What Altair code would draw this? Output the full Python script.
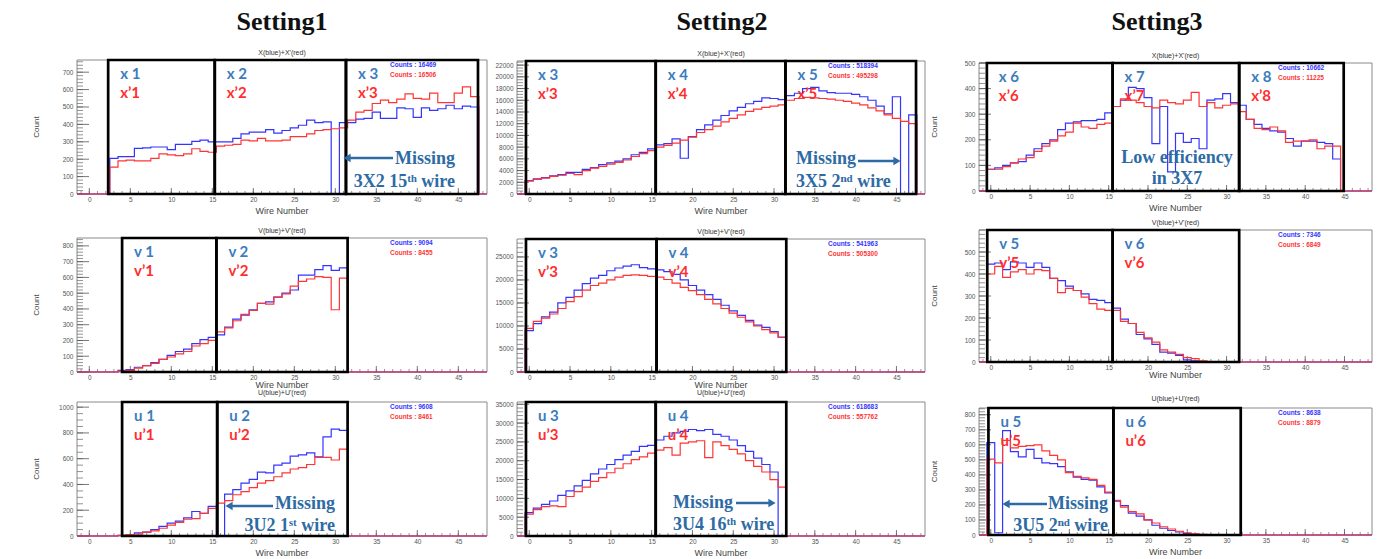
import altair as alt
import pandas as pd

# ---------------- data ----------------
LO, HI = -1.5, 48.5
X_TICKS = [0, 5, 10, 15, 20, 25, 30, 35, 40, 45]

# Setting1 X plane (wires 3..47)
S1_X_START = 3
S1_X_BLUE = [205, 215, 215, 262, 265, 270, 270, 255, 285, 285, 302, 310, 300,
             300, 300, 320, 345, 355, 355, 370, 350, 365, 380, 395, 425, 410, 415, 0, 410,
             410, 430, 435, 470, 435, 435, 495, 490, 440, 495, 480, 490, 510, 490, 505, 500]
S1_X_RED = [155, 190, 195, 190, 190, 205, 230, 225, 220, 230, 260, 245, 240,
            275, 280, 285, 310, 305, 320, 305, 305, 310, 330, 330, 345, 365, 370, 375, 380,
            425, 470, 480, 520, 540, 525, 545, 575, 550, 545, 580, 525, 525, 580, 615, 560]
S1_X_BOXES = [2.3, 15.3, 31.3, 47.4]
S1_X_LAB_B = ["x 1", "x 2", "x 3"]
S1_X_LAB_R = ["x’1", "x’2", "x’3"]
S1_X_COUNTS = ["Counts : 16469", "Counts : 16506"]

# Setting2 X plane (wires 0..47)
S2_X_START = 0
S2_X_BLUE = [2300, 2600, 2800, 3100, 3300, 3700, 3700, 4200, 4500, 5000, 5300, 5600, 6000, 6700, 7100, 7700,
             8400, 8600, 9400, 6100, 9800, 11000, 11800, 12600, 13400, 14200, 14800, 15400, 15800, 16400, 16300, 16100,
             16800, 17200, 18000, 18200, 17600, 17300, 17200, 17200, 17000, 16600, 16000, 15000, 13700, 16600, 0, 13500]
S2_X_RED = [2200, 2500, 2700, 3000, 3200, 3500, 3300, 4000, 4400, 4700, 5100, 5400, 5800, 6400, 6900, 7400,
            8000, 8300, 8700, 9200, 9700, 10500, 11000, 11600, 12300, 12900, 13500, 14100, 14500, 14800, 15000, 15200,
            16000, 16300, 16500, 16400, 16300, 16200, 16000, 15800, 15500, 15200, 14700, 14200, 13500, 12900, 12400, 12000]
S2_X_BOXES = [-0.4, 15.5, 31.4, 47.4]
S2_X_LAB_B = ["x 3", "x 4", "x 5"]
S2_X_LAB_R = ["x’3", "x’4", "x’5"]
S2_X_COUNTS = ["Counts : 518394", "Counts : 495298"]

# Setting3 X plane (wires 0..44)
S3_X_START = 0
S3_X_BLUE = [85, 90, 100, 110, 115, 140, 165, 185, 200, 240, 265, 270, 275, 275, 280, 305,
             330, 355, 405, 400, 365, 185, 330, 75, 225, 190, 205, 165, 355, 360, 380, 345,
             335, 280, 260, 245, 235, 230, 205, 175, 195, 195, 190, 185, 125]
S3_X_RED = [85, 85, 95, 110, 125, 130, 155, 175, 195, 215, 230, 265, 250, 245, 260, 265,
            330, 360, 355, 345, 330, 325, 355, 345, 340, 355, 385, 330, 345, 325, 335, 340,
            310, 280, 245, 240, 250, 235, 190, 195, 195, 200, 165, 175, 175]
S3_X_BOXES = [-0.5, 15.5, 31.6, 44.9]
S3_X_LAB_B = ["x 6", "x 7", "x 8"]
S3_X_LAB_R = ["x’6", "x’7", "x’8"]
S3_X_COUNTS = ["Counts : 10662", "Counts : 11225"]

# Setting1 V plane (wires 4..31)
S1_V_START = 4
S1_V_BLUE = [10, 15, 30, 40, 60, 80, 105, 130, 145, 180, 205, 220,
             235, 285, 335, 360, 395, 435, 445, 475, 500, 520, 615, 615, 650, 675, 645, 660]
S1_V_RED = [5, 10, 25, 40, 55, 80, 95, 115, 130, 165, 180, 200,
            255, 280, 325, 365, 390, 435, 430, 475, 495, 545, 575, 590, 605, 600, 395, 595]
S1_V_BOXES = [4.0, 15.5, 31.5]
S1_V_LAB_B = ["v 1", "v 2"]
S1_V_LAB_R = ["v’1", "v’2"]
S1_V_COUNTS = ["Counts : 9094", "Counts : 8455"]

# Setting2 V plane (wires 0..31)
S2_V_START = 0
S2_V_BLUE = [9000, 10500, 12000, 13000, 15000, 16200, 17800, 19200, 20400, 21000, 22000, 22600, 23000, 23300, 22700, 22400,
             22200, 21800, 21200, 20000, 18800, 17800, 16800, 15800, 14500, 13300, 12300, 11200, 10200, 9700, 8800, 7600]
S2_V_RED = [9500, 11000, 11700, 12600, 13800, 15300, 16400, 17800, 18800, 19300, 20000, 20600, 21000, 21100, 21000, 20800,
            20600, 20100, 19300, 18400, 17700, 16800, 15800, 14800, 13800, 12800, 11900, 10900, 10000, 9200, 8500, 7500]
S2_V_BOXES = [-0.4, 15.6, 31.5]
S2_V_LAB_B = ["v 3", "v 4"]
S2_V_LAB_R = ["v’3", "v’4"]
S2_V_COUNTS = ["Counts : 541963", "Counts : 505300"]

# Setting3 V plane (wires 0..27)
S3_V_START = 0
S3_V_BLUE = [445, 450, 420, 455, 450, 430, 450, 430, 380, 370, 345, 325, 310, 285, 280, 270,
             245, 195, 175, 125, 105, 80, 45, 40, 30, 10, 5, 2]
S3_V_RED = [400, 435, 385, 410, 420, 400, 420, 415, 380, 315, 335, 325, 295, 265, 240, 235,
            235, 185, 175, 135, 110, 90, 55, 45, 35, 20, 15, 5]
S3_V_BOXES = [-0.45, 15.5, 31.6]
S3_V_LAB_B = ["v 5", "v 6"]
S3_V_LAB_R = ["v’5", "v’6"]
S3_V_COUNTS = ["Counts : 7346", "Counts : 6849"]

# Setting1 U plane (wires 4..31)
S1_U_START = 4
S1_U_BLUE = [5, 10, 25, 30, 50, 75, 100, 115, 140, 190, 175, 230,
             0, 325, 360, 410, 440, 495, 490, 550, 565, 620, 630, 645, 615, 770, 830, 820]
S1_U_RED = [5, 10, 15, 30, 40, 60, 85, 105, 130, 135, 175, 215,
            255, 275, 320, 345, 375, 410, 430, 460, 490, 520, 530, 555, 610, 610, 590, 675]
S1_U_BOXES = [4.0, 15.6, 31.5]
S1_U_LAB_B = ["u 1", "u 2"]
S1_U_LAB_R = ["u’1", "u’2"]
S1_U_COUNTS = ["Counts : 9608", "Counts : 8461"]

# Setting2 U plane (wires 0..31)
S2_U_START = 0
S2_U_BLUE = [6200, 7400, 8400, 9300, 10800, 12000, 13300, 14800, 16500, 17800, 19000, 20300, 21500, 22500, 23800, 24100,
             25500, 26500, 27400, 27800, 28300, 28000, 28300, 27000, 26500, 25500, 24000, 22500, 20700, 19000, 17000, 0]
S2_U_RED = [5800, 7000, 7800, 8000, 7800, 10500, 11800, 13000, 14500, 15500, 16800, 18000, 19200, 20300, 21000, 22000,
            22800, 23500, 21500, 24700, 25000, 25300, 20800, 25000, 24000, 23000, 21800, 20000, 18500, 17000, 15000, 13000]
S2_U_BOXES = [-0.4, 15.5, 31.5]
S2_U_LAB_B = ["u 3", "u 4"]
S2_U_LAB_R = ["u’3", "u’4"]
S2_U_COUNTS = ["Counts : 618683", "Counts : 557762"]

# Setting3 U plane (wires 0..27)
S3_U_START = 0
S3_U_BLUE = [615, 15, 695, 555, 520, 570, 510, 480, 475, 455, 420, 385, 370, 365, 320, 280,
             225, 195, 145, 125, 100, 65, 45, 30, 20, 10, 5, 2]
S3_U_RED = [505, 480, 630, 580, 590, 595, 600, 560, 530, 500, 415, 390, 380, 370, 330, 285,
            230, 185, 155, 140, 100, 80, 55, 40, 25, 15, 8, 5]
S3_U_BOXES = [-0.3, 15.6, 31.8]
S3_U_LAB_B = ["u 5", "u 6"]
S3_U_LAB_R = ["u’5", "u’6"]
S3_U_COUNTS = ["Counts : 8638", "Counts : 8879"]

SETTINGS = ["Setting1", "Setting2", "Setting3"]
TITLES = ["X(blue)+X'(red)", "V(blue)+V'(red)", "U(blue)+U'(red)"]

# ---------------- styles ----------------
BLUE = "#3434ff"
RED = "#ff3535"
LAB_BLUE = "#3b7cbe"
LAB_RED = "#ff2e2e"
ANNOT = "#2e6ba5"
AXFONT = "Liberation Sans"

# column geometry: (view width, plot width, y-title x offset or None)
COLS = [(410, 410, -40), (432, 408, None), (393, 393, -44)]
# per column, per row: (view height = plot bottom, plot top)
ROWS = [[(134, 0), (148, 14), (134, 0)],
        [(134, 1), (148, 15), (134, 0)],
        [(131, 3), (138, 6), (133, 6)]]
COUNTS_X = [313, 311, 299]
SETTING_X = [205, 205, 178]
WIRE_DY = [17, 13, 17]
TITLE_DY = [7, 7, 9]

PANELS = [
    # row 0
    dict(c=0, r=0, start=S1_X_START, blue=S1_X_BLUE, red=S1_X_RED, boxes=S1_X_BOXES, lb=S1_X_LAB_B, lr=S1_X_LAB_R,
         counts=S1_X_COUNTS, ymax=770, ystep=100, ytop=700, minor=20,
         annot=[("Missing", 378, 99, "right"), ("3X2 15\u1d57\u02b0 wire", 378, 122, "right")],
         arrow=(316, 266, 98, "left")),
    dict(c=1, r=0, start=S2_X_START, blue=S2_X_BLUE, red=S2_X_RED, boxes=S2_X_BOXES, lb=S2_X_LAB_B, lr=S2_X_LAB_R,
         counts=S2_X_COUNTS, ymax=22700, ystep=2000, ytop=22000, minor=500,
         annot=[("Missing", 279, 99, "left"), ("3X5 2\u207f\u1d48 wire", 279, 122, "left")],
         arrow=(341, 384, 101, "right")),
    dict(c=2, r=0, start=S3_X_START, blue=S3_X_BLUE, red=S3_X_RED, boxes=S3_X_BOXES, lb=S3_X_LAB_B, lr=S3_X_LAB_R,
         counts=S3_X_COUNTS, ymax=500, ystep=100, ytop=500, minor=20,
         annot=[("Low efficiency", 198, 98, "center"), ("in 3X7", 198, 119, "center")],
         arrow=None),
    # row 1
    dict(c=0, r=1, start=S1_V_START, blue=S1_V_BLUE, red=S1_V_RED, boxes=S1_V_BOXES, lb=S1_V_LAB_B, lr=S1_V_LAB_R,
         counts=S1_V_COUNTS, ymax=850, ystep=100, ytop=800, minor=20, annot=[], arrow=None),
    dict(c=1, r=1, start=S2_V_START, blue=S2_V_BLUE, red=S2_V_RED, boxes=S2_V_BOXES, lb=S2_V_LAB_B, lr=S2_V_LAB_R,
         counts=S2_V_COUNTS, ymax=28900, ystep=5000, ytop=25000, minor=1000, annot=[], arrow=None),
    dict(c=2, r=1, start=S3_V_START, blue=S3_V_BLUE, red=S3_V_RED, boxes=S3_V_BOXES, lb=S3_V_LAB_B, lr=S3_V_LAB_R,
         counts=S3_V_COUNTS, ymax=600, ystep=100, ytop=500, minor=20, annot=[], arrow=None),
    # row 2
    dict(c=0, r=2, start=S1_U_START, blue=S1_U_BLUE, red=S1_U_RED, boxes=S1_U_BOXES, lb=S1_U_LAB_B, lr=S1_U_LAB_R,
         counts=S1_U_COUNTS, ymax=1040, ystep=200, ytop=1000, minor=50,
         annot=[("Missing", 258, 102, "right"), ("3U2 1\u02e2\u1d57 wire", 258, 124, "right")],
         arrow=(196, 148, 104, "left")),
    dict(c=1, r=2, start=S2_U_START, blue=S2_U_BLUE, red=S2_U_RED, boxes=S2_U_BOXES, lb=S2_U_LAB_B, lr=S2_U_LAB_R,
         counts=S2_U_COUNTS, ymax=35600, ystep=5000, ytop=35000, minor=1000,
         annot=[("Missing", 156, 101, "left"), ("3U4 16\u1d57\u02b0 wire", 156, 123, "left")],
         arrow=(219, 259, 101, "right")),
    dict(c=2, r=2, start=S3_U_START, blue=S3_U_BLUE, red=S3_U_RED, boxes=S3_U_BOXES, lb=S3_U_LAB_B, lr=S3_U_LAB_R,
         counts=S3_U_COUNTS, ymax=845, ystep=100, ytop=800, minor=20,
         annot=[("Missing", 129, 102, "right"), ("3U5 2\u207f\u1d48 wire", 129, 124, "right")],
         arrow=(68, 23, 102, "left")),
]


def hist_df(start, vals):
    d = {start + i: v for i, v in enumerate(vals)}
    bins = list(range(-1, 49))
    xs = [b - 0.5 for b in bins] + [HI]
    ys = [d.get(b, 0) for b in bins] + [0]
    return pd.DataFrame({"x": xs, "y": ys})


def one(text):
    return pd.DataFrame({"t": [text]})


def build(p):
    vw, pw, ytitle_x = COLS[p["c"]]
    h, top = ROWS[p["c"]][p["r"]]
    xs = alt.Scale(domain=[LO, HI], range=[0, pw], nice=False, zero=False)
    ys = alt.Scale(domain=[0, p["ymax"]], range=[h, top], nice=False, zero=False)
    yvals = list(range(0, p["ytop"] + 1, p["ystep"]))
    xaxis = alt.Axis(values=X_TICKS, labelFontSize=6.5, labelColor="#555", labelFont=AXFONT, ticks=False,
                     domain=False, grid=False, title=None, labelPadding=2, labelOverlap=False, format="d")
    yaxis = alt.Axis(values=yvals, labelFontSize=6.5, labelColor="#555", labelFont=AXFONT, ticks=False,
                     domain=False, grid=False, title=None, labelPadding=4, labelOverlap=False, format="d")
    X = lambda f: alt.X(f, type="quantitative", scale=xs, axis=xaxis)
    Y = lambda f: alt.Y(f, type="quantitative", scale=ys, axis=yaxis)

    layers = []
    # frame
    frame = pd.DataFrame({"x1": [LO], "x2": [HI], "y1": [0], "y2": [p["ymax"]]})
    layers.append(alt.Chart(frame).mark_rect(fillOpacity=0, stroke="#8a8a8a", strokeWidth=1).encode(
        x=X("x1"), x2="x2", y=Y("y1"), y2="y2"))
    # y ticks (major / minor)
    major = pd.DataFrame({"v": yvals})
    minor_vals = [v * p["minor"] for v in range(0, int(p["ymax"] / p["minor"]) + 1)]
    minor = pd.DataFrame({"v": minor_vals})
    layers.append(alt.Chart(minor).mark_rule(color="#666", strokeWidth=0.7).encode(
        y=Y("v"), x=alt.value(0), x2=alt.value(6)))
    layers.append(alt.Chart(major).mark_rule(color="#555", strokeWidth=0.8).encode(
        y=Y("v"), x=alt.value(0), x2=alt.value(12)))
    # x ticks
    xminor = pd.DataFrame({"v": list(range(-1, 49))})
    xmajor = pd.DataFrame({"v": X_TICKS})
    layers.append(alt.Chart(xminor).mark_rule(color="#666", strokeWidth=0.7).encode(
        x=X("v"), y=alt.value(h), y2=alt.value(h - 3)))
    layers.append(alt.Chart(xmajor).mark_rule(color="#555", strokeWidth=0.8).encode(
        x=X("v"), y=alt.value(h), y2=alt.value(h - 6)))
    # histograms
    layers.append(alt.Chart(hist_df(p["start"], p["blue"])).mark_line(
        interpolate="step-after", color=BLUE, strokeWidth=1.2).encode(x=X("x"), y=Y("y")))
    layers.append(alt.Chart(hist_df(p["start"], p["red"])).mark_line(
        interpolate="step-after", color=RED, strokeWidth=1.2).encode(x=X("x"), y=Y("y")))
    # module boxes
    b = p["boxes"]
    boxes = pd.DataFrame({"x1": b[:-1], "x2": b[1:], "y1": [0] * (len(b) - 1),
                          "y2": [p["ymax"]] * (len(b) - 1), "lb": p["lb"], "lr": p["lr"]})
    layers.append(alt.Chart(boxes).mark_rect(fillOpacity=0, stroke="black", strokeWidth=2.7).encode(
        x=X("x1"), x2="x2", y=Y("y1"), y2="y2"))
    layers.append(alt.Chart(boxes).mark_text(align="left", baseline="middle", dx=12, font="Lato",
                                             fontWeight="bold", fontSize=15, color=LAB_BLUE).encode(
        x=X("x1"), y=alt.value(top + 14), text="lb:N"))
    layers.append(alt.Chart(boxes).mark_text(align="left", baseline="middle", dx=12, font="Lato",
                                             fontWeight="bold", fontSize=15, color=LAB_RED).encode(
        x=X("x1"), y=alt.value(top + 33), text="lr:N"))
    # counts
    cx = COUNTS_X[p["c"]]
    for i, col in enumerate([BLUE, RED]):
        layers.append(alt.Chart(one(p["counts"][i])).mark_text(
            align="left", baseline="middle", font=AXFONT, fontWeight="bold", fontSize=6.5, color=col).encode(
            x=alt.value(cx), y=alt.value(top + 5 + 9.5 * i), text="t:N"))
    # panel title
    layers.append(alt.Chart(one(TITLES[p["r"]])).mark_text(
        align="center", baseline="middle", font=AXFONT, fontSize=7, color="#333").encode(
        x=alt.value(pw / 2), y=alt.value(top - TITLE_DY[p["r"]]), text="t:N"))
    # axis titles
    layers.append(alt.Chart(one("Wire Number")).mark_text(
        align="center", baseline="middle", font=AXFONT, fontSize=9, color="#444").encode(
        x=alt.value(pw / 2), y=alt.value(h + WIRE_DY[p["r"]]), text="t:N"))
    if ytitle_x is not None:
        layers.append(alt.Chart(one("Count")).mark_text(
            align="center", baseline="middle", font=AXFONT, fontSize=8, color="#444", angle=270).encode(
            x=alt.value(ytitle_x), y=alt.value((top + h) / 2), text="t:N"))
    # setting title
    if p["r"] == 0:
        layers.append(alt.Chart(one(SETTINGS[p["c"]])).mark_text(
            align="center", baseline="middle", font="Liberation Serif", fontWeight="bold", fontSize=26,
            color="#111").encode(x=alt.value(SETTING_X[p["c"]]), y=alt.value(-38), text="t:N"))
    # annotations
    for txt, ax, ay, al in p["annot"]:
        layers.append(alt.Chart(one(txt)).mark_text(
            align=al, baseline="middle", font="Liberation Serif", fontWeight="bold", fontSize=18,
            color=ANNOT).encode(x=alt.value(ax), y=alt.value(ay), text="t:N"))
    if p["arrow"] is not None:
        x1, x2, ay, d = p["arrow"]
        tip = x2 + (4 if d == "left" else -4)
        layers.append(alt.Chart(one("a")).mark_rule(color=ANNOT, strokeWidth=2.6).encode(
            x=alt.value(x1), x2=alt.value(tip), y=alt.value(ay)))
        layers.append(alt.Chart(one("a")).mark_point(
            shape="triangle-" + d, filled=True, size=70, color=ANNOT, opacity=1).encode(
            x=alt.value(tip), y=alt.value(ay)))
    # layout anchor (top-left extent)
    if p["c"] == 0 and p["r"] == 0:
        layers.append(alt.Chart(one("a")).mark_rule(opacity=0).encode(
            x=alt.value(-69), x2=alt.value(-68), y=alt.value(-52), y2=alt.value(-51)))
    return alt.layer(*layers).properties(width=vw, height=h)


charts = [build(p) for p in PANELS]
chart = alt.concat(*charts, columns=3, bounds="flush", spacing=30).properties(
    padding=0, background="white").configure_view(strokeWidth=0)

chart.save("out.html", embed_options={"renderer": "svg", "actions": False})
